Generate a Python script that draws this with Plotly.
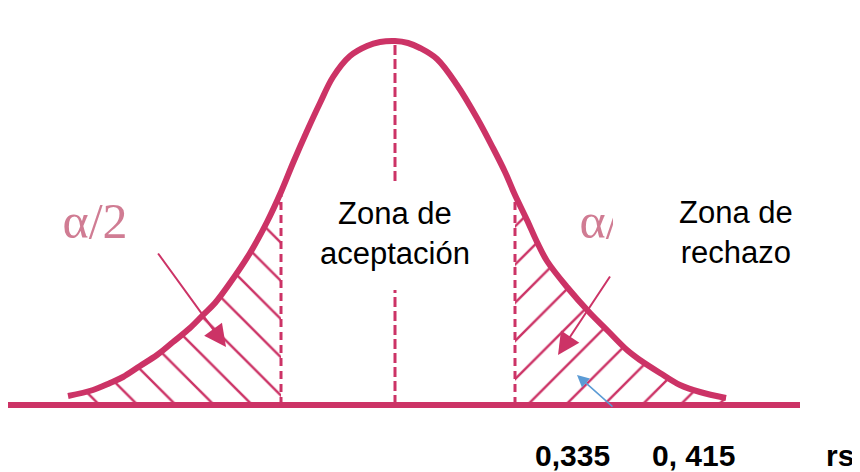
import plotly.graph_objects as go

# curve: x position and height above the base line
curve_x = [68, 93, 110, 123, 140, 157, 173, 190, 203, 215, 230, 250, 267, 281, 293, 307, 320, 333,
           350, 367, 380, 395, 408, 420, 437, 457, 477, 493, 505, 515, 527, 537, 547, 567, 590,
           607, 627, 640, 660, 680, 700, 726]
curve_h = [9, 15, 22, 28, 39, 50, 63, 77, 90, 102, 122, 152, 183, 213, 242, 274, 302, 328,
           349, 359, 363, 364, 362, 357, 346, 320, 287, 257, 233, 210, 185, 163, 144, 118, 92,
           75, 55, 45, 32, 20, 13, 7]

crit_low = 281
centre = 395
crit_high = 515

zone_labels = ["Zona de<br>aceptación", "Zona de<br>rechazo"]
alpha_label = "α/2"
bottom_labels = ["0,335", "0, 415", "rs"]

CRIMSON = "#cc3366"
ALPHA_COL = "#d07c93"
BLUE = "#5b9bd5"

h_at = dict(zip(curve_x, curve_h))
left_x = [x for x in curve_x if x <= crit_low]
left_h = [h_at[x] for x in left_x]
right_x = [x for x in curve_x if x >= crit_high]
right_h = [h_at[x] for x in right_x]

fig = go.Figure()

# hatched tails
for tx, th, pat in [(left_x, left_h, "\\"), (right_x, right_h, "/")]:
    fig.add_trace(go.Scatter(
        x=tx, y=th, mode="lines", fill="tozeroy",
        line=dict(width=0, shape="spline"), fillcolor="rgba(255,255,255,0)",
        fillpattern=dict(shape=pat, size=27, solidity=0.09, fgcolor=CRIMSON,
                         fgopacity=1, bgcolor="rgba(255,255,255,0)")
    ))

# dashed verticals
for xv, dash in [(crit_low, "8px,5px"), (centre, "10px,4px"), (crit_high, "8px,5px")]:
    fig.add_trace(go.Scatter(
        x=[xv, xv], y=[0, h_at[xv]], mode="lines",
        line=dict(color=CRIMSON, width=3, dash=dash)
    ))

# the bell curve
fig.add_trace(go.Scatter(
    x=curve_x, y=curve_h, mode="lines",
    line=dict(color=CRIMSON, width=6, shape="spline")
))

# alpha labels (the right one is partly hidden by the text box)
fig.add_trace(go.Scatter(
    x=[95, 612], y=[180, 180], mode="text", text=[alpha_label, alpha_label],
    textposition="middle center",
    textfont=dict(family="Liberation Serif", size=50, color=ALPHA_COL)
))

# white text boxes and base line
fig.add_shape(type="rect", x0=292, x1=500, y0=115, y1=222,
              fillcolor="white", line_width=0, layer="above")
fig.add_shape(type="rect", x0=613, x1=806, y0=113, y1=222,
              fillcolor="white", line_width=0, layer="above")
fig.add_shape(type="line", x0=8, x1=800, y0=0, y1=0,
              line=dict(color=CRIMSON, width=6), layer="above")

txt = dict(family="Liberation Sans, Arial", size=31, color="black")
fig.add_annotation(x=395, y=172, text=zone_labels[0], showarrow=False, font=txt)
fig.add_annotation(x=736, y=173, text=zone_labels[1], showarrow=False, font=txt)

# pointer arrows
arrow = dict(text="", showarrow=True, axref="x", ayref="y",
             arrowhead=2, arrowwidth=2, arrowsize=2.2, arrowcolor=CRIMSON)
fig.add_annotation(x=226, y=58, ax=157, ay=153, **arrow)
fig.add_annotation(x=558, y=50, ax=611, ay=130, **arrow)
fig.add_annotation(x=577, y=30, ax=614, ay=-3, text="", showarrow=True,
                   axref="x", ayref="y", arrowhead=2, arrowwidth=1.5,
                   arrowsize=1.6, arrowcolor=BLUE)

bold = dict(family="Liberation Sans, Arial", size=30, color="black", weight="bold")
for lab, xv in zip(bottom_labels, [572, 693, 840]):
    fig.add_annotation(x=xv, y=-50, text=lab, showarrow=False, font=bold, borderpad=0)

# the page puts an 8px margin round the figure, so the figure is 8px smaller
fig.update_layout(
    width=852, height=464,
    margin=dict(l=0, r=0, t=0, b=0),
    paper_bgcolor="white", plot_bgcolor="white",
    showlegend=False,
    xaxis=dict(range=[8, 860], visible=False, fixedrange=True),
    yaxis=dict(range=[-67, 397], visible=False, fixedrange=True),
)

fig.write_html("out.html")
